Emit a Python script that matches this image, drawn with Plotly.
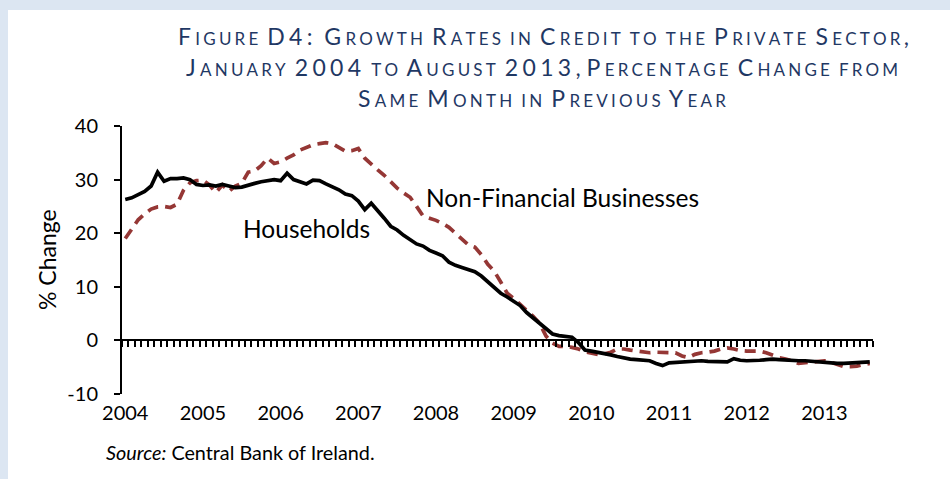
import plotly.graph_objects as go

# ---------------- data ----------------
years = ["2004", "2005", "2006", "2007", "2008", "2009", "2010", "2011", "2012", "2013"]
n_months = 116  # Jan 2004 .. Aug 2013

households = [
    26.3, 26.6, 27.2, 27.8, 28.8, 31.4, 29.7, 30.2, 30.2, 30.3, 30.0, 29.1,
    28.9, 29.0, 28.8, 29.1, 28.8, 28.5, 28.6, 29.0, 29.3, 29.6, 29.8, 30.0,
    29.8, 31.2, 30.0, 29.6, 29.2, 29.9, 29.8, 29.2, 28.6, 28.1, 27.3, 27.0,
    26.0, 24.4, 25.6, 24.3, 22.8, 21.3, 20.6, 19.6, 18.7, 18.0, 17.6, 16.8,
    16.3, 15.8, 14.6, 14.0, 13.6, 13.2, 12.8, 12.0, 10.9, 9.9, 8.8, 8.1,
    7.3, 6.5, 5.2, 4.2, 3.0, 2.0, 1.2, 0.9, 0.8, 0.6, -0.4, -1.8,
    -2.0, -2.2, -2.4, -2.7, -3.0, -3.3, -3.5, -3.6, -3.7, -3.8, -4.3, -4.7,
    -4.2, -4.1, -4.0, -3.9, -3.9, -3.8, -3.9, -3.9, -3.9, -4.0, -3.4, -3.7,
    -3.8, -3.8, -3.7, -3.6, -3.5, -3.6, -3.7, -3.8, -3.8, -3.8, -3.9, -4.0,
    -4.1, -4.3, -4.3, -4.3, -4.2, -4.2, -4.1, -4.0,
]

non_financial = [
    19.0, 20.8, 22.5, 23.6, 24.5, 24.9, 25.0, 24.8, 25.4, 28.0, 29.4, 29.8,
    29.9, 29.0, 27.6, 29.0, 27.8, 28.8, 29.3, 31.4, 31.6, 32.6, 34.0, 33.0,
    33.3, 34.0, 34.6, 35.5, 36.0, 36.5, 36.7, 36.9, 36.7, 36.0, 35.3, 35.4,
    35.8, 34.0, 32.8, 31.8, 30.8, 29.5, 28.4, 27.5, 26.7, 25.0, 23.2, 22.8,
    22.4, 21.8, 21.1, 20.0, 18.8, 17.8, 17.4, 16.0, 14.2, 12.9, 10.9, 8.8,
    7.8, 6.8, 5.6, 4.5, 3.2, 0.8, -0.5, -1.1, -1.1, -1.3, -1.6, -2.1,
    -2.4, -2.6, -2.5, -2.2, -1.6, -1.6, -1.8, -2.0, -2.2, -2.3, -2.2, -2.2,
    -2.2, -2.3, -2.9, -3.2, -2.6, -2.3, -2.2, -2.0, -1.6, -1.4, -1.6, -1.9,
    -2.0, -2.0, -2.0, -2.3, -2.8, -3.2, -3.5, -3.8, -4.3, -4.2, -4.0, -3.9,
    -3.8, -4.1, -4.5, -4.9, -4.9, -4.8, -4.5, -4.3,
]

y_ticks = [-10, 0, 10, 20, 30, 40]
y_tick_labels = ["-10", "0", "10", "20", "30", "40"]

months = list(range(n_months))
year_positions = [12 * i for i in range(len(years))]

# ---------------- layout geometry ----------------
W, H = 950, 479
ML, MR, MT, MB = 122, 77, 126, 85
PW, PH = W - ML - MR, H - MT - MB
Y_MIN, Y_MAX = -10, 40

def px_x(px):
    return (px - ML) / PW

def px_y(py):
    return (H - MB - py) / PH

FONT = "Lato"
TITLE_COLOR = "#1F3864"
GAP = "&#8201;&#8202;"

def small_caps(text, big, small):
    runs = []
    for ch in text:
        if ch.islower():
            size, c = small, ch.upper()
        else:
            size, c = big, ch
        if c == " ":
            c = "&nbsp;" if (runs and runs[-1][1].endswith(" ")) else " "
        elif c not in ",:":
            c = c + GAP
        if runs and runs[-1][0] == size:
            runs[-1][1] += c
        else:
            runs.append([size, c])
    return "".join(f'<span style="font-size:{s}px">{t}</span>' for s, t in runs)

title_lines = [
    "Figure D4:  Growth Rates in Credit to the Private Sector,",
    "January 2004 to August 2013, Percentage Change from",
    "Same Month in Previous Year",
]

fig = go.Figure()

fig.add_trace(go.Scatter(
    x=months, y=non_financial, mode="lines", name="Non-Financial Businesses",
    line=dict(color="#953735", width=3.7, dash="11px,7px"), showlegend=False,
))
fig.add_trace(go.Scatter(
    x=months, y=households, mode="lines", name="Households", xaxis="x2",
    line=dict(color="black", width=3.7), showlegend=False,
))

annotations = []
for i, line in enumerate(title_lines):
    annotations.append(dict(
        text=small_caps(line, 23, 17), x=px_x(543), y=px_y(36 + 31 * i),
        xref="paper", yref="paper", xanchor="center", yanchor="middle",
        showarrow=False, font=dict(family=FONT, color=TITLE_COLOR, size=23),
    ))
annotations += [
    dict(text="Households", x=px_x(306), y=px_y(228), xref="paper", yref="paper",
         xanchor="center", yanchor="middle", showarrow=False,
         font=dict(family=FONT, size=24.5, color="black")),
    dict(text="Non-Financial Businesses", x=px_x(562), y=px_y(197), xref="paper", yref="paper",
         xanchor="center", yanchor="middle", showarrow=False,
         font=dict(family=FONT, size=24.5, color="black")),
    dict(text="% Change", x=px_x(47), y=px_y(260), xref="paper", yref="paper",
         xanchor="center", yanchor="middle", showarrow=False, textangle=-90,
         font=dict(family=FONT, size=23, color="black")),
    dict(text="<i>Source:</i> Central Bank of Ireland.", x=px_x(104), y=px_y(452),
         xref="paper", yref="paper", xanchor="left", yanchor="middle", showarrow=False,
         font=dict(family=FONT, size=19.8, color="black")),
]

fig.update_layout(
    width=W, height=H,
    margin=dict(l=ML, r=MR, t=MT, b=MB, pad=0),
    paper_bgcolor="#DCE6F2", plot_bgcolor="white",
    showlegend=False,
    font=dict(family=FONT, size=20, color="black"),
    annotations=annotations,
    shapes=[dict(type="rect", xref="paper", yref="paper", layer="below",
                 x0=px_x(8), x1=px_x(W + 5), y0=px_y(H + 5), y1=px_y(10),
                 fillcolor="white", line=dict(width=0))],
    xaxis=dict(
        range=[-0.5, n_months - 0.5], tickmode="array",
        tickvals=year_positions, ticktext=years,
        showline=False, showgrid=False, zeroline=False,
        ticks="outside", ticklen=0, ticklabelstandoff=1,
        tickfont=dict(family=FONT, size=20, color="black"),
    ),
    xaxis2=dict(
        overlaying="x", anchor="free", position=(0 - Y_MIN) / (Y_MAX - Y_MIN),
        range=[-0.5, n_months - 0.5], tickmode="linear", tick0=-0.5, dtick=1,
        showticklabels=False, showline=True, linecolor="black", linewidth=2,
        ticks="outside", ticklen=6, tickwidth=1.5, tickcolor="black",
        showgrid=False, zeroline=False, side="bottom",
    ),
    yaxis=dict(
        range=[Y_MIN, Y_MAX], tickmode="array", tickvals=y_ticks, ticktext=y_tick_labels,
        showline=True, linecolor="black", linewidth=2,
        ticks="outside", ticklen=6, tickwidth=1.5, tickcolor="black",
        showgrid=False, zeroline=False, ticklabelstandoff=12,
        tickfont=dict(family=FONT, size=20, color="black"),
    ),
)

fig.write_html("out.html", config={"displayModeBar": False},
               post_script="document.body.style.margin='0';")
